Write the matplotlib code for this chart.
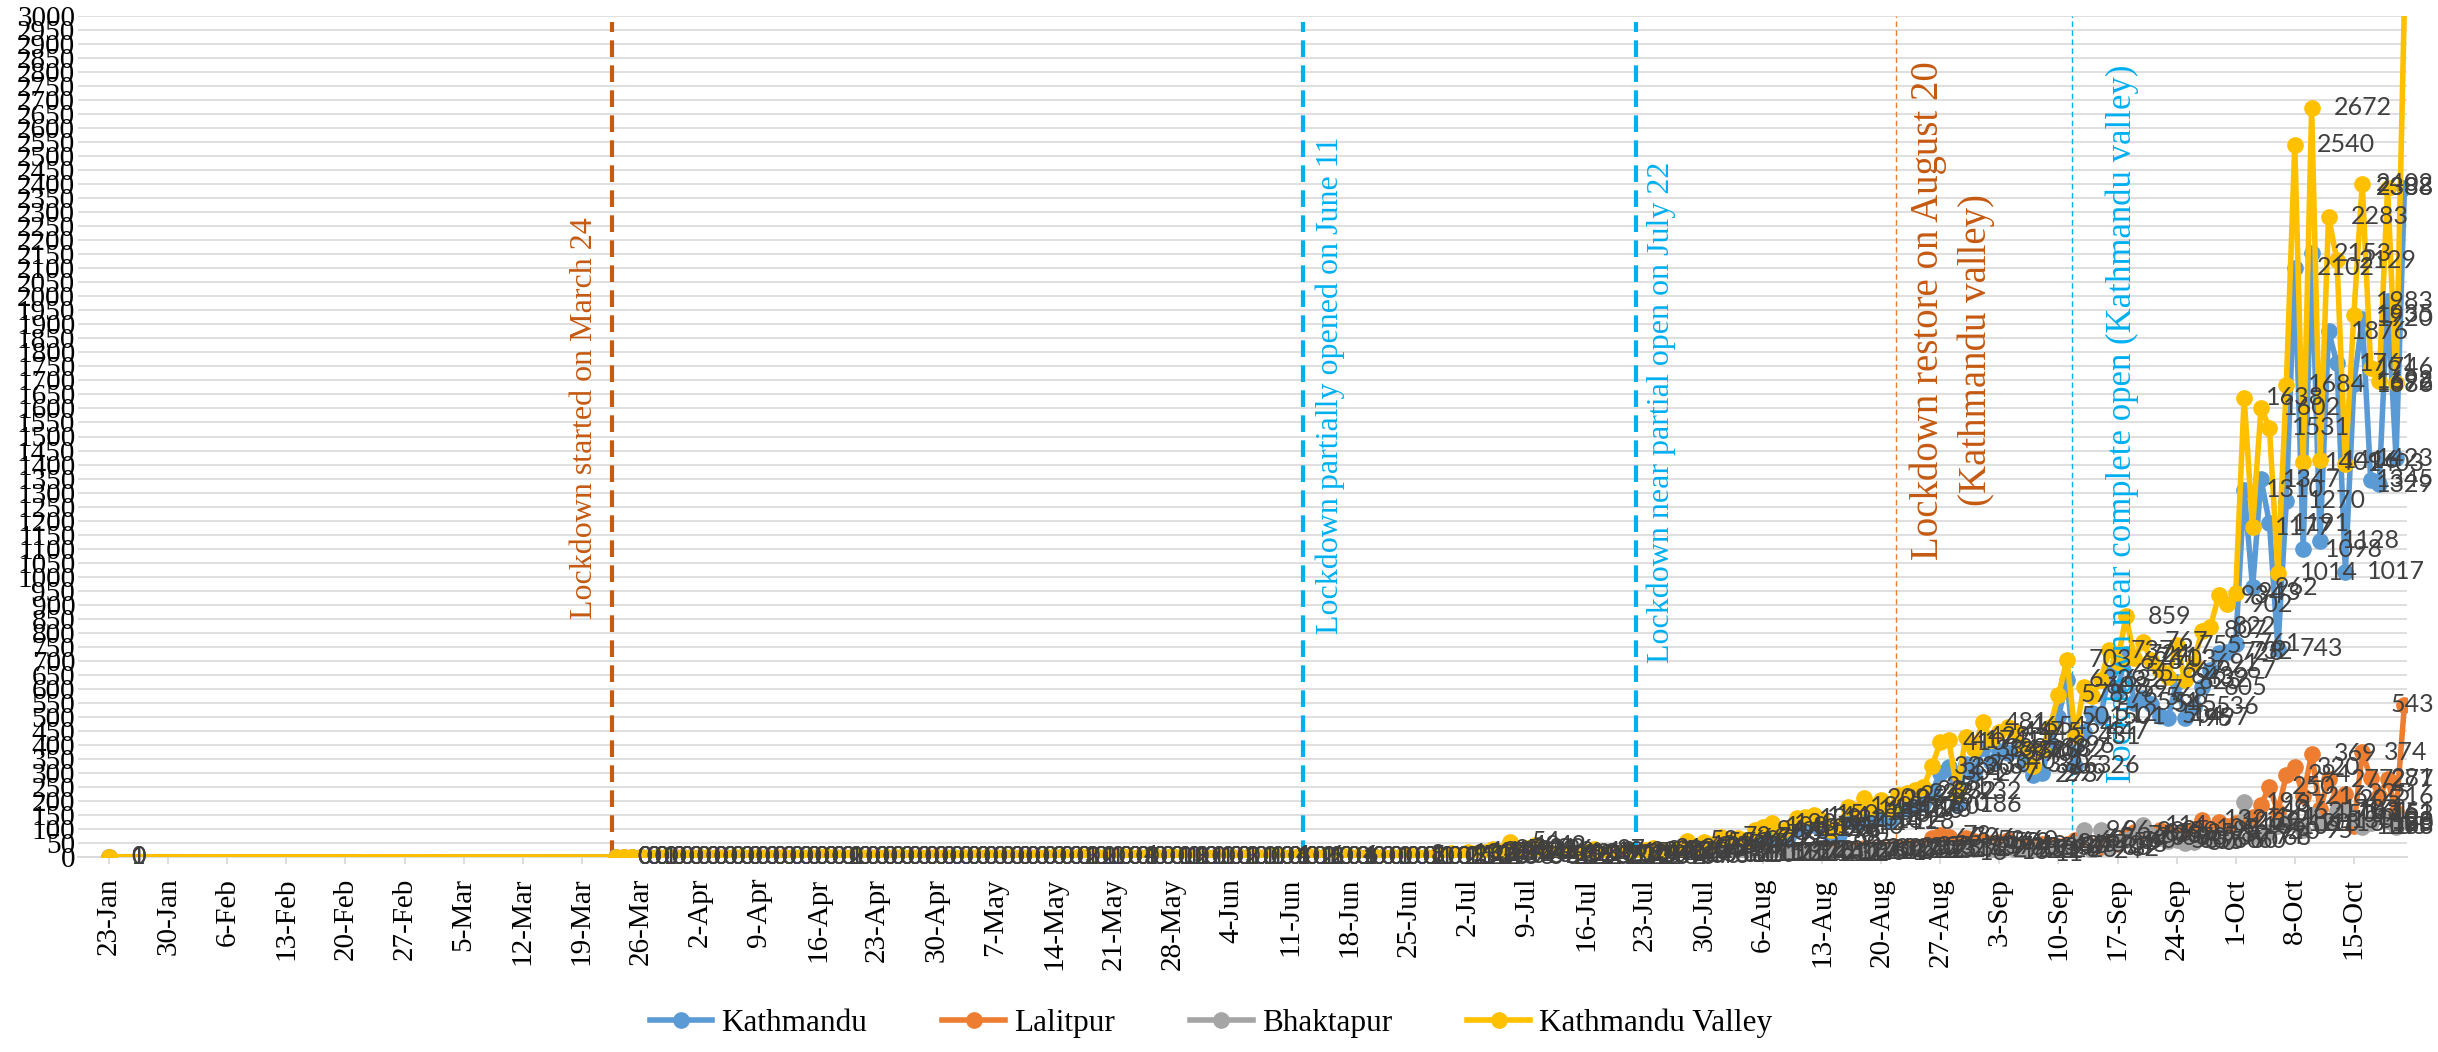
import matplotlib
matplotlib.use("Agg")
import matplotlib.pyplot as plt
import matplotlib.dates as mdates
import pandas as pd

plt.rcParams['font.family'] = ['Liberation Serif', 'DejaVu Serif']

W, H = 2438, 1052

# first reported case on 23 Jan, then daily counts 23 Mar - 21 Oct 2020
first_day = pd.Timestamp('2020-01-23')
dates = [first_day] + list(pd.date_range('2020-03-23', '2020-10-21', freq='D'))

# Kathmandu
ktm_jan = [1]
ktm_mar = [0, 0, 0, 1, 0, 0, 0, 0, 0]
ktm_apr = [0, 0, 0, 0, 0, 0, 0, 0, 0, 0, 0, 0, 0, 0, 0, 0, 1, 0, 0, 0,
           0, 0, 0, 0, 0, 0, 0, 0, 0, 0]
ktm_may = [0, 0, 0, 0, 0, 0, 0, 0, 0, 0, 0, 0, 0, 0, 2, 0, 1, 1, 0, 0,
           0, 3, 0, 0, 0, 1, 0, 2, 0, 1, 0]
ktm_jun = [0, 0, 2, 0, 1, 0, 0, 0, 4, 0, 0, 1, 3, 0, 0, 0, 4, 0, 0, 0,
           1, 0, 0, 0, 5, 1, 0, 0, 1, 9]
ktm_jul = [3, 12, 10, 13, 19, 15, 40, 14, 22, 30, 18, 11, 8, 9, 6, 13, 19, 7, 9, 10,
           14, 7, 17, 22, 15, 12, 20, 42, 25, 38, 31]
ktm_aug = [52, 42, 47, 44, 70, 79, 88, 64, 73, 102, 106, 113, 98, 68, 80, 136, 124, 158, 131, 152,
           128, 166, 170, 180, 190, 232, 301, 320, 186, 330, 297]
ktm_sep = [388, 340, 377, 370, 380, 330, 293, 299, 396, 501, 632, 326, 447, 512, 501, 655, 597, 724, 551, 568,
           545, 504, 495, 625, 497, 536, 605, 667, 728, 732]
ktm_oct = [761, 1310, 962, 1347, 1191, 743, 1270, 2102, 1098, 2153, 1128, 1876, 1761, 1017, 1686, 1920, 1345, 1329, 1983, 1423,
           2388]

# Lalitpur
lal_jan = [0]
lal_mar = [0, 0, 0, 0, 0, 0, 0, 0, 0]
lal_apr = [0, 0, 0, 0, 0, 0, 0, 0, 0, 0, 0, 0, 0, 0, 0, 0, 1, 0, 0, 0,
           0, 0, 0, 0, 0, 0, 0, 0, 0, 0]
lal_may = [0, 0, 0, 0, 0, 0, 0, 0, 0, 0, 0, 0, 0, 0, 1, 0, 1, 0, 0, 0,
           0, 1, 0, 0, 0, 0, 1, 1, 0, 0, 1]
lal_jun = [0, 0, 1, 0, 0, 1, 0, 0, 1, 0, 0, 1, 2, 0, 0, 0, 1, 0, 0, 0,
           0, 0, 0, 0, 2, 0, 0, 0, 1, 3]
lal_jul = [1, 4, 3, 4, 5, 5, 9, 4, 6, 8, 5, 3, 3, 2, 2, 4, 5, 2, 3, 3,
           4, 2, 5, 6, 4, 4, 6, 10, 7, 9, 8]
lal_aug = [12, 10, 11, 10, 15, 17, 19, 15, 17, 22, 23, 23, 21, 17, 18, 27, 28, 31, 30, 32,
           27, 33, 35, 37, 38, 66, 78, 70, 30, 66, 58]
lal_sep = [56, 50, 52, 60, 40, 35, 22, 48, 42, 40, 45, 60, 65, 40, 35, 50, 45, 75, 90, 85,
           80, 95, 90, 70, 85, 100, 132, 95, 126, 110]
lal_oct = [122, 132, 141, 187, 250, 162, 294, 320, 216, 369, 170, 277, 205, 225, 109, 374, 281, 216, 277, 161,
           543]

# Bhaktapur
bkt_jan = [0]
bkt_mar = [0, 0, 0, 0, 0, 0, 0, 0, 0]
bkt_apr = [0, 0, 0, 0, 0, 0, 0, 0, 0, 0, 0, 0, 0, 0, 0, 0, 0, 0, 0, 0,
           0, 0, 0, 0, 0, 0, 0, 0, 0, 0]
bkt_may = [0, 0, 0, 0, 0, 0, 0, 0, 0, 0, 0, 0, 0, 0, 0, 0, 0, 0, 0, 0,
           0, 0, 0, 0, 0, 0, 0, 0, 0, 0, 0]
bkt_jun = [0, 0, 0, 0, 0, 0, 0, 0, 1, 0, 0, 0, 1, 0, 0, 0, 1, 0, 0, 0,
           0, 0, 0, 0, 1, 0, 0, 0, 0, 1]
bkt_jul = [1, 2, 2, 2, 3, 3, 5, 3, 3, 4, 3, 2, 1, 2, 1, 2, 3, 1, 1, 2,
           2, 1, 2, 3, 3, 2, 3, 6, 4, 6, 6]
bkt_aug = [8, 8, 8, 8, 11, 12, 13, 11, 12, 14, 15, 14, 13, 11, 12, 17, 16, 20, 19, 21,
           17, 22, 22, 22, 23, 25, 31, 27, 16, 33, 29]
bkt_sep = [37, 27, 18, 35, 25, 23, 11, 35, 26, 37, 26, 45, 96, 24, 96, 32, 54, 60, 70, 114,
           78, 68, 58, 60, 50, 55, 70, 60, 80, 60]
bkt_oct = [60, 196, 74, 68, 90, 109, 120, 118, 95, 150, 118, 130, 163, 161, 140, 108, 120, 153, 128, 108,
           128]

# Kathmandu Valley
val_jan = [1]
val_mar = [0, 0, 0, 1, 0, 0, 0, 0, 0]
val_apr = [0, 0, 0, 0, 0, 0, 0, 0, 0, 0, 0, 0, 0, 0, 0, 0, 2, 0, 0, 0,
           0, 0, 0, 0, 0, 0, 0, 0, 0, 0]
val_may = [0, 0, 0, 0, 0, 0, 0, 0, 0, 0, 0, 0, 0, 0, 3, 0, 2, 1, 0, 0,
           0, 4, 0, 0, 0, 1, 1, 3, 0, 1, 1]
val_jun = [0, 0, 3, 0, 1, 1, 0, 0, 6, 0, 0, 2, 6, 0, 0, 0, 6, 0, 0, 0,
           1, 0, 0, 0, 8, 1, 0, 0, 2, 13]
val_jul = [5, 18, 15, 19, 27, 23, 54, 21, 31, 42, 26, 16, 12, 13, 9, 19, 27, 10, 13, 15,
           20, 10, 24, 31, 22, 18, 29, 58, 36, 53, 45]
val_aug = [72, 60, 66, 62, 96, 108, 120, 90, 102, 138, 144, 150, 132, 96, 110, 180, 168, 209, 180, 205,
           172, 221, 227, 239, 251, 323, 410, 417, 232, 429, 384]
val_sep = [481, 417, 447, 465, 445, 388, 326, 382, 464, 578, 703, 431, 608, 576, 632, 737, 696, 859, 711, 767,
           703, 667, 643, 755, 632, 691, 807, 822, 934, 902]
val_oct = [943, 1638, 1177, 1602, 1531, 1014, 1684, 2540, 1409, 2672, 1416, 2283, 2129, 1403, 1935, 2402, 1746, 1698, 2388, 1692,
           3059]

kathmandu = ktm_jan + ktm_mar + ktm_apr + ktm_may + ktm_jun + ktm_jul + ktm_aug + ktm_sep + ktm_oct
lalitpur = lal_jan + lal_mar + lal_apr + lal_may + lal_jun + lal_jul + lal_aug + lal_sep + lal_oct
bhaktapur = bkt_jan + bkt_mar + bkt_apr + bkt_may + bkt_jun + bkt_jul + bkt_aug + bkt_sep + bkt_oct
valley = val_jan + val_mar + val_apr + val_may + val_jun + val_jul + val_aug + val_sep + val_oct

series_names = ['Kathmandu', 'Lalitpur', 'Bhaktapur', 'Kathmandu Valley']
series_values = [kathmandu, lalitpur, bhaktapur, valley]
series_colors = ['#5B9BD5', '#ED7D31', '#A5A5A5', '#FFC000']

# lockdown events: days after 23 Jan where the marker line sits
event_days = [59.6, 141.5, 180.9, 211.7, 232.6]
event_colors = ['#C55A11', '#00B0F0', '#00B0F0', '#ED7D31', '#00B0F0']
# captions: (text, days after 23 Jan, y value, colour, font size)
captions = [('Lockdown started on March 24', 56.3, 1566, '#C55A11', 23),
            ('Lockdown partially opened on June 11', 144.7, 1684, '#00B0F0', 23),
            ('Lockdown near partial open on July 22', 183.9, 1588, '#00B0F0', 23),
            ('Lockdown restore on August 20', 215.6, 1950, '#C55A11', 28),
            ('(Kathmandu valley)', 221.3, 1810, '#C55A11', 28),
            ('Lockdown near complete open (Kathmandu valley)', 238.5, 1545, '#00B0F0', 25)]

tick_dates = pd.date_range('2020-01-23', '2020-10-15', freq='7D')
tick_labels = [f"{d.day}-{d.strftime('%b')}" for d in tick_dates]

fig = plt.figure(figsize=(W / 100, H / 100), dpi=100)
ax = fig.add_axes([78 / W, 1 - 857 / H, (2407 - 78) / W, (857 - 16) / H])

for name, vals, col in zip(series_names, series_values, series_colors):
    ax.plot(dates, vals, color=col, lw=4, marker='o', ms=11, label=name,
            zorder=3, solid_joinstyle='round')

ax.set_xlim(first_day - pd.Timedelta(days=3.7), first_day + pd.Timedelta(days=272.3))
ax.set_ylim(0, 3000)
ax.set_yticks(range(0, 3001, 50))
ax.set_xticks(tick_dates)
ax.set_xticklabels(tick_labels, rotation=90)

ax.yaxis.grid(True, color='#D9D9D9', lw=1.2)
ax.set_axisbelow(True)
for s in ['top', 'right', 'left']:
    ax.spines[s].set_visible(False)
ax.spines['bottom'].set_color('#D9D9D9')
ax.spines['bottom'].set_linewidth(1.3)
ax.tick_params(axis='x', length=5, width=1.3, color='#D9D9D9', pad=10, labelsize=21)
ax.tick_params(axis='y', length=0, pad=2, labelsize=21)

# event lines
for i, (day, col) in enumerate(zip(event_days, event_colors)):
    x = first_day + pd.Timedelta(days=day)
    if i < 3:
        ax.plot([x, x], [0, 2980], color=col, lw=3, dashes=(4, 2), zorder=2)
    else:
        ax.plot([x, x], [0, 3000], color=col, lw=1.0, dashes=(4, 2.5), zorder=2)

for txt, tx, ty, tcol, fs in captions:
    ax.text(first_day + pd.Timedelta(days=tx), ty, txt, rotation=90, color=tcol, fontsize=fs,
            ha='center', va='center', zorder=4)

# data labels to the right of each point
label_fs = 18
for vals in series_values:
    for d, v in zip(dates, vals):
        if v > 3000:
            continue
        px, py = ax.transData.transform((mdates.date2num(d), v))
        s = str(v)
        w = len(s) * 0.58 * label_fs * 100 / 72
        off = 22
        if px + off + w > W - 4:
            off = W - 4 - w - px
        ax.annotate(s, (d, v), xytext=(off, 0), textcoords='offset pixels',
                    ha='left', va='center', fontsize=label_fs, color='#404040',
                    family='Lato', zorder=5)

fig.legend(loc='center', bbox_to_anchor=(1211 / W, 1 - 1023 / H), ncol=4, frameon=False,
           fontsize=22.5, handlelength=2.0, handletextpad=0.3, columnspacing=2.4)

fig.savefig('out.png', dpi=100)
